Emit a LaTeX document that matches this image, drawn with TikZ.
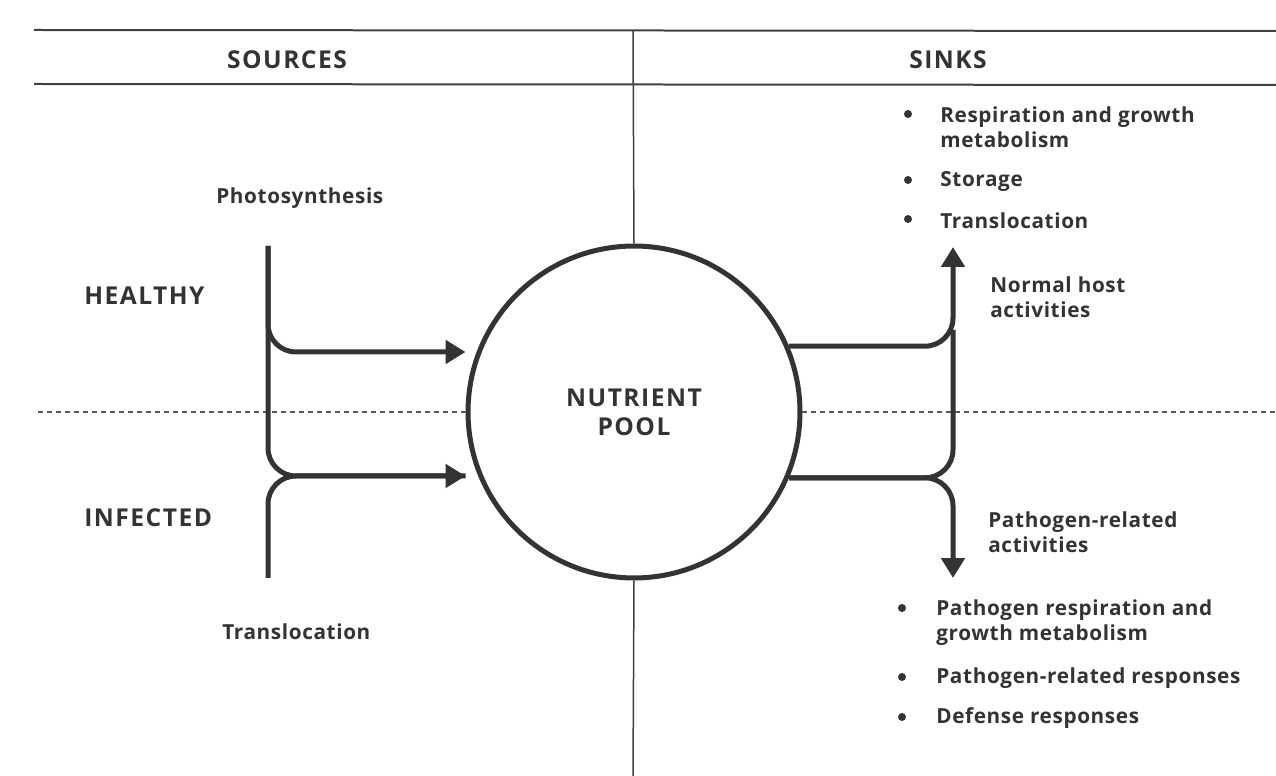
\documentclass[tikz,border=0pt]{standalone}
\usepackage{fontspec}
\setmainfont{Open Sans}
\usetikzlibrary{arrows.meta}

\begin{document}
\begin{tikzpicture}[x=0.02cm, y=-0.02cm]
    \tikzstyle{header} = [font=\fontsize{14}{16}\selectfont\bfseries\addfontfeature{LetterSpace=6},
        text=black!80]
    \tikzstyle{side} = [header, anchor=west, inner sep=0pt]
    \tikzstyle{label} = [font=\fontsize{11.8}{14.2}\selectfont\bfseries\addfontfeature{LetterSpace=3},
        text=black!80, anchor=west, align=left, inner sep=0pt]
    \tikzstyle{pool} = [circle, draw=black!80, line width=0.1cm, minimum size=6.64cm,
        align=center, text=black!80,
        font=\fontsize{14}{16.5}\selectfont\bfseries\addfontfeature{LetterSpace=6}]
    \tikzstyle{rule} = [draw=black!75, line width=0.04cm]
    \tikzstyle{flow} = [draw=black!80, line width=0.1cm, rounded corners=0.56cm]
    \tikzstyle{arrow} = [flow, ->, >={Triangle[length=0.4cm,width=0.46cm]}]

    \useasboundingbox (0,0) rectangle (1276,776);

    % Rahmen
    \draw [rule] (34,30) -- (1276,31);
    \draw [rule] (34,84) -- (1276,85);
    \node (pool) [pool] at (634,412) {NUTRIENT\\POOL};
    \draw [draw=black!75, line width=0.03cm] (633,31) -- (pool.north);
    \draw [draw=black!75, line width=0.03cm] (pool.south) -- (633,776);
    \draw [draw=black!65, line width=0.03cm, dash pattern=on 0.1cm off 0.08cm]
        (38,412) -- (pool.west);
    \draw [draw=black!65, line width=0.03cm, dash pattern=on 0.1cm off 0.08cm]
        (pool.east) -- (1276,412);

    \node (sources) [header] at (287,60) {SOURCES};
    \node (sinks) [header] at (948,60) {SINKS};
    \node (healthy) [side] at (84,296) {HEALTHY};
    \node (infected) [side] at (84,518) {INFECTED};
    \node (photo) [label] at (216,198) {Photosynthesis};
    \node (transl) [label] at (222,632) {Translocation};

    % Quellen
    \coordinate (srcTop) at (268,246);
    \coordinate (srcBot) at (268,578);
    \coordinate (rowH) at (0,352);
    \coordinate (rowI) at (0,476);
    \draw [arrow] (srcTop) |- (pool.west |- rowH);
    \draw [arrow] (srcTop) |- (pool.west |- rowI);
    \draw [flow] (srcBot) |- (pool.west |- rowI);

    % Senken
    \coordinate (sinkTop) at (953,247);
    \coordinate (sinkBot) at (953,578);
    \draw [arrow] (pool.23) -| (sinkTop);
    \draw [flow] (pool.-23) -| (953,330);
    \draw [arrow] (pool.-23) -| (sinkBot);

    \node (normal) [label] at (990,297) {Normal host\\activities};
    \node (pathact) [label] at (988,532) {Pathogen-related\\activities};

    \node (resp) [label] at (940,127) {Respiration and growth\\metabolism};
    \node (store) [label] at (940,181) {Storage};
    \node (trans) [label] at (940,221) {Translocation};
    \foreach \y in {114,180,219}
        \fill [black!80] (908,\y) circle (0.08cm);

    \node (presp) [label] at (936,623) {Pathogen respiration and\\growth metabolism};
    \node (presps) [label] at (936,678) {Pathogen-related responses};
    \node (defense) [label] at (936,718) {Defense responses};
    \foreach \y in {608,677,717}
        \fill [black!80] (902,\y) circle (0.08cm);
\end{tikzpicture}
\end{document}
